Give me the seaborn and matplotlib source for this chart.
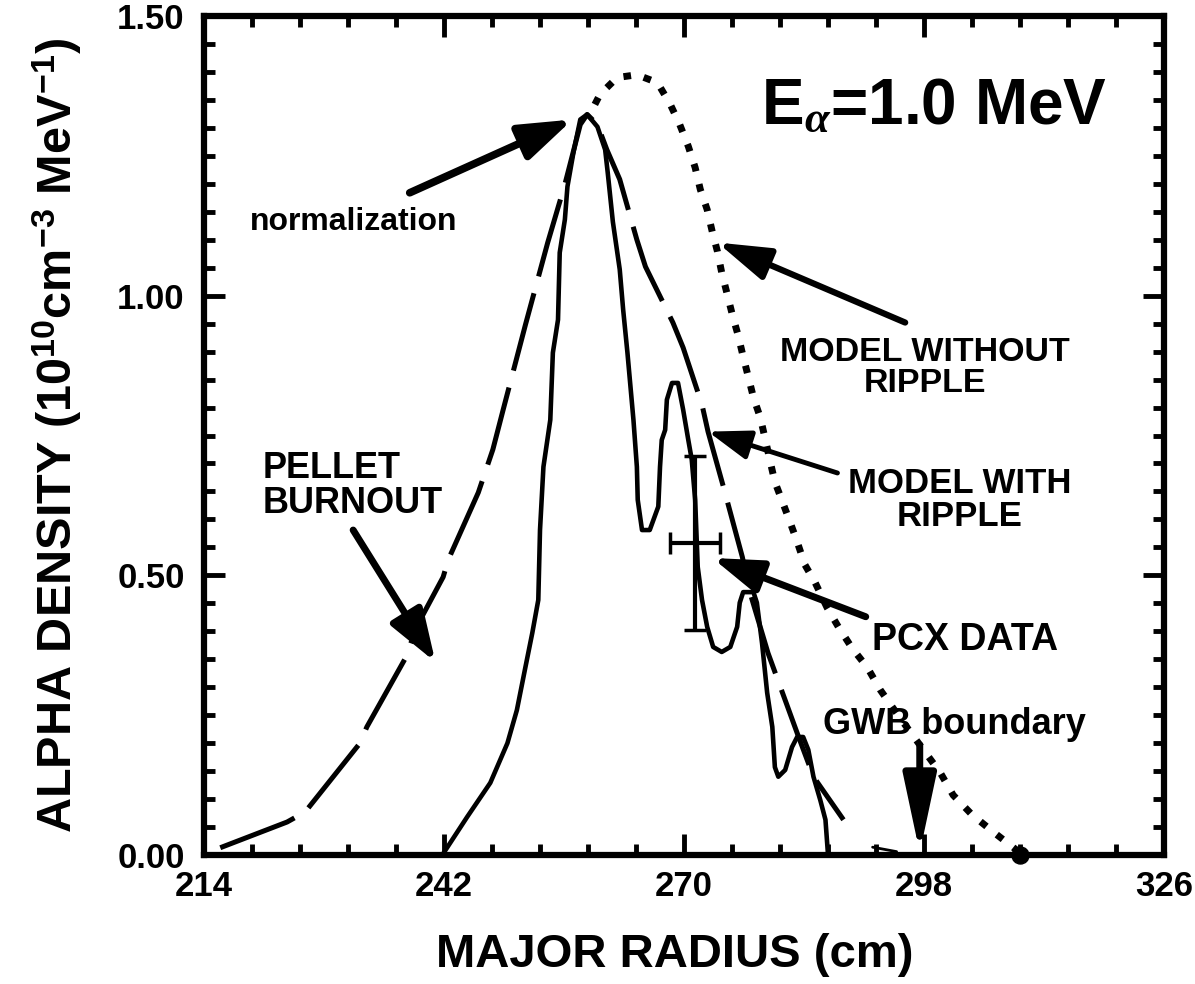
import numpy as np
import matplotlib
matplotlib.use("Agg")
import matplotlib.pyplot as plt
import seaborn as sns
from matplotlib.ticker import FixedLocator

# ---------------- data ----------------
# PCX data (solid)
pcx_r = [241.8, 244.7, 247.4, 249.4, 250.5, 251.5, 252.3, 253.0, 253.2, 253.6,
         254.4, 254.7, 255.3, 255.5, 256.1, 256.4, 257.1, 257.9, 258.7, 259.9,
         260.8, 261.1, 261.7, 262.5, 262.9, 263.4, 264.1, 264.5, 264.6, 265.1,
         266.0, 267.0, 267.2, 267.4, 267.8, 268.0, 268.6, 269.3, 269.9, 270.5,
         270.9, 271.3, 271.6, 272.1, 272.7, 273.4, 274.4, 275.4, 276.2, 276.5,
         276.9, 278.1, 278.5, 279.1, 279.7, 280.3, 280.6, 281.0, 281.8, 282.6,
         283.2, 283.9, 284.5, 285.1, 285.9, 286.5, 286.7, 286.8]
pcx_n = [0.000, 0.068, 0.129, 0.200, 0.259, 0.336, 0.397, 0.456, 0.581, 0.694,
         0.778, 0.898, 0.957, 1.077, 1.136, 1.195, 1.256, 1.315, 1.324, 1.302,
         1.261, 1.220, 1.132, 1.047, 0.975, 0.898, 0.778, 0.694, 0.635, 0.581,
         0.581, 0.623, 0.694, 0.742, 0.760, 0.814, 0.844, 0.844, 0.796, 0.742,
         0.707, 0.635, 0.515, 0.456, 0.408, 0.372, 0.363, 0.372, 0.408, 0.451,
         0.470, 0.470, 0.451, 0.379, 0.290, 0.229, 0.157, 0.140, 0.152, 0.193,
         0.211, 0.211, 0.188, 0.140, 0.098, 0.063, 0.021, 0.000]

# Model with ripple (dashed)
ripple_r = [215.9, 223.7, 225.8, 232.2, 233.0, 237.5, 238.9, 241.9, 242.5, 246.0,
            247.7, 248.9, 251.5, 254.1, 256.1, 257.9, 258.7, 259.9, 261.0, 262.5,
            264.5, 265.5, 268.7, 269.9, 272.1, 272.8, 274.6, 276.8, 277.7, 279.8,
            283.2, 285.1, 288.6]
ripple_n = [0.013, 0.059, 0.077, 0.200, 0.229, 0.352, 0.411, 0.497, 0.528, 0.648,
            0.725, 0.796, 0.948, 1.095, 1.199, 1.306, 1.324, 1.306, 1.261, 1.208,
            1.100, 1.052, 0.952, 0.907, 0.805, 0.757, 0.658, 0.533, 0.469, 0.361,
            0.218, 0.140, 0.063]
ripple_tail_r = [292.0, 294.8]
ripple_tail_n = [0.014, 0.006]

# Model without ripple (dotted)
noripple_r = [259.6, 260.2, 262.2, 264.5, 266.9, 268.4, 269.5, 270.5, 271.3, 271.9,
              272.7, 273.3, 273.9, 274.4, 275.0, 275.7, 276.3, 276.9, 277.5, 278.1,
              278.9, 279.5, 280.0, 280.6, 281.4, 282.4, 283.2, 284.1, 285.3, 286.7,
              288.0, 289.6, 291.4, 292.9, 295.2, 297.5, 299.9, 301.4, 303.6, 306.1,
              309.2]
noripple_n = [1.342, 1.360, 1.390, 1.395, 1.381, 1.342, 1.306, 1.267, 1.229, 1.190,
              1.154, 1.114, 1.079, 1.041, 1.005, 0.962, 0.930, 0.891, 0.855, 0.818,
              0.782, 0.742, 0.707, 0.667, 0.635, 0.594, 0.560, 0.519, 0.487, 0.442,
              0.408, 0.370, 0.335, 0.295, 0.245, 0.197, 0.147, 0.107, 0.072, 0.041,
              0.004]
end_r = [309.2]
end_n = [0.0]

# PCX error bar
err_r = [271.3]
err_n = [0.558]
err_dr = [2.9]
err_dn = [0.155]

x_ticks = [214, 242, 270, 298, 326]
x_tick_labels = ["214", "242", "270", "298", "326"]
y_ticks = [0.00, 0.50, 1.00, 1.50]
y_tick_labels = ["0.00", "0.50", "1.00", "1.50"]

# ---------------- style ----------------
sns.set_theme(style="ticks")
plt.rcParams['font.family'] = ['Liberation Sans', 'DejaVu Sans']
plt.rcParams['font.weight'] = 'bold'
plt.rcParams['text.color'] = 'black'
plt.rcParams['axes.labelcolor'] = 'black'
plt.rcParams['xtick.color'] = 'black'
plt.rcParams['ytick.color'] = 'black'
plt.rcParams['xtick.labelcolor'] = 'black'
plt.rcParams['ytick.labelcolor'] = 'black'
plt.rcParams['mathtext.fontset'] = 'custom'
plt.rcParams['mathtext.rm'] = 'Liberation Sans:bold'
plt.rcParams['mathtext.bf'] = 'Liberation Sans:bold'
plt.rcParams['mathtext.it'] = 'Liberation Serif:italic'

fig = plt.figure(figsize=(11.95, 9.84), dpi=100)
fig.patch.set_facecolor('white')
ax = fig.add_axes([0.1707, 0.1311, 0.8034, 0.8526])
ax.set_facecolor('white')

# curves
sns.lineplot(x=pcx_r, y=pcx_n, ax=ax, color='black', lw=3.3, sort=False,
             estimator=None, solid_joinstyle='round')
sns.lineplot(x=ripple_r, y=ripple_n, ax=ax, color='black', lw=3.6, sort=False,
             estimator=None, linestyle=(0, (16, 3.5)))
sns.lineplot(x=ripple_tail_r, y=ripple_tail_n, ax=ax, color='black', lw=2.0,
             sort=False, estimator=None)
sns.lineplot(x=noripple_r, y=noripple_n, ax=ax, color='black', lw=5.0, sort=False,
             estimator=None, linestyle=(0, (1.1, 1.9)))
sns.scatterplot(x=end_r, y=end_n, ax=ax, color='black', s=150, zorder=5,
                clip_on=False, edgecolor='black')

ax.errorbar(err_r, err_n, xerr=err_dr, yerr=err_dn, fmt='none', ecolor='black',
            elinewidth=3, capsize=8, capthick=2.5)

# axes
ax.set_xlim(214, 326)
ax.set_ylim(0, 1.5)
ax.set_xticks(x_ticks)
ax.set_xticklabels(x_tick_labels)
ax.set_yticks(y_ticks)
ax.set_yticklabels(y_tick_labels)
ax.xaxis.set_minor_locator(FixedLocator(np.arange(214, 326.01, 5.6)))
ax.yaxis.set_minor_locator(FixedLocator(np.arange(0, 1.501, 0.05)))
ax.tick_params(which='both', direction='in', top=True, right=True, color='black',
               labelcolor='black')
ax.tick_params(which='major', length=15, width=3.5, labelsize=25)
ax.tick_params(which='minor', length=8, width=3.5)
ax.tick_params(axis='y', which='major', pad=14)
ax.tick_params(axis='x', which='major', pad=11)
for lab in ax.get_xticklabels() + ax.get_yticklabels():
    lab.set_fontweight('bold')
for sp in ax.spines.values():
    sp.set_linewidth(4.5)
    sp.set_color('black')
    sp.set_visible(True)

ax.set_xlabel("MAJOR RADIUS (cm)", fontsize=34, fontweight='bold', color='black')
ax.xaxis.set_label_coords(0.49, -0.093)
ax.set_ylabel(r"ALPHA DENSITY (10$^{\mathbf{10}}$cm$^{\mathbf{-3}}$ MeV$^{\mathbf{-1}}$)",
              fontsize=35, fontweight='bold', color='black')
ax.yaxis.set_label_coords(-0.125, 0.5)

# annotations
def arrow(xy, xytext, lw=5, hl=1.5, hw=0.5, ms=20):
    ax.annotate('', xy=xy, xytext=xytext,
                arrowprops=dict(arrowstyle=f'-|>,head_length={hl},head_width={hw}',
                                lw=lw, color='black', shrinkA=0, shrinkB=0,
                                mutation_scale=ms))

ax.text(219.4, 1.132, "normalization", fontsize=23, fontweight='bold',
        ha='left', va='center')
arrow((257.0, 1.315), (238.0, 1.184), lw=5.5, hl=1.6, hw=0.55)

ax.text(298.1, 0.871, "MODEL WITHOUT\nRIPPLE", fontsize=24.5, fontweight='bold',
        ha='center', va='center', multialignment='center', linespacing=1.0)
arrow((273.9, 1.095), (295.8, 0.952), lw=4.5, hl=1.6, hw=0.5)

ax.text(302.2, 0.635, "MODEL WITH\nRIPPLE", fontsize=25, fontweight='bold',
        ha='center', va='center', multialignment='center', linespacing=1.0)
arrow((272.8, 0.757), (287.9, 0.683), lw=3.5, hl=1.3, hw=0.45)

ax.text(291.9, 0.385, "PCX DATA", fontsize=27, fontweight='bold',
        ha='left', va='center')
arrow((273.3, 0.531), (291.2, 0.426), lw=5, hl=1.5, hw=0.5)

ax.text(286.2, 0.233, "GWB boundary", fontsize=26, fontweight='bold',
        ha='left', va='center')
arrow((297.5, 0.004), (297.5, 0.197), lw=5, hl=2.35, hw=0.5)

ax.text(220.8, 0.660, "PELLET\nBURNOUT", fontsize=26, fontweight='bold',
        ha='left', va='center', linespacing=1.0)
arrow((241.0, 0.345), (231.4, 0.581), lw=5, hl=1.6, hw=0.55)

ax.text(279.0, 1.306, r"E$_{\alpha}$=1.0 MeV", fontsize=46, fontweight='bold',
        ha='left', va='baseline')

fig.savefig("out.png", dpi=100, facecolor='white')
